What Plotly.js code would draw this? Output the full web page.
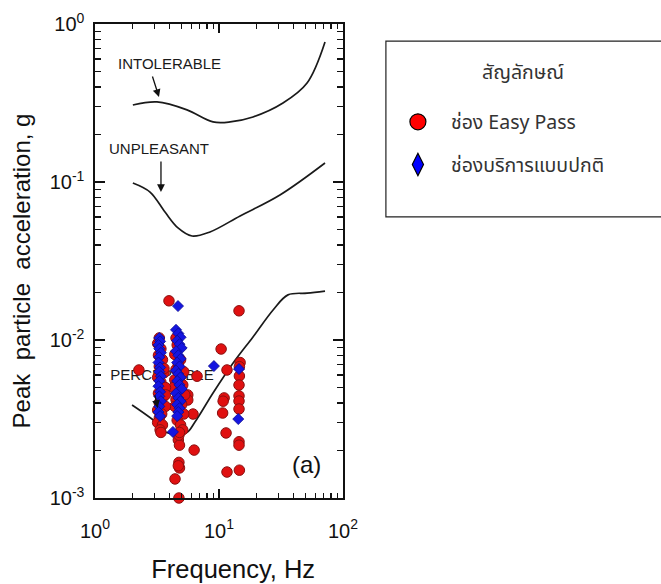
<!DOCTYPE html>
<html>
<head>
<meta charset="utf-8">
<script src="https://cdn.plot.ly/plotly-3.0.1.min.js"></script>
<style>html,body{margin:0;padding:0;background:#fff;}#chart{width:661px;height:584px;}</style>
</head>
<body>
<div id="chart"></div>
<script>
// ---- threshold curves (frequency Hz, acceleration g) ----
var intolerableF = [2.02, 3.16, 5.52, 8.95, 12.3, 18.8, 32.8, 51.3, 71.6];
var intolerableA = [0.307, 0.321, 0.286, 0.240, 0.240, 0.258, 0.316, 0.423, 0.769];
var unpleasantF = [2.02, 2.78, 3.67, 4.67, 6.06, 8.46, 14.8, 31.0, 71.6];
var unpleasantA = [0.0986, 0.0864, 0.0645, 0.0512, 0.0455, 0.0483, 0.0610, 0.0828, 0.132];
var perceptibleF = [1.99, 3.16, 3.67, 5.42, 6.4, 8.95, 13.0, 18.8, 27.3, 36.0, 51.3, 71.6];
var perceptibleA = [0.00388, 0.00298, 0.00262, 0.00258, 0.00303, 0.00462, 0.00715, 0.01045, 0.0155, 0.0193, 0.0198, 0.0204];

// ---- measured points: Easy Pass lane (red circles) ----
var easyF = [3.95, 14.5, 10.4, 2.26, 6.65, 11.6, 14.8, 14.6, 14.6, 14.5, 14.5, 14.5, 14.5, 14.5, 14.5, 14.6,
  11.0, 10.8, 10.7, 11.4, 11.6, 6.17, 6.3,
  4.75, 4.42, 4.75, 4.8, 4.7, 4.7, 4.8, 4.75, 5.6, 5.6,
  4.5, 4.6, 4.4, 4.9, 4.5, 5.0, 4.4, 5.1, 4.6, 5.3, 4.5, 5.0, 4.7, 5.2, 4.6, 4.9, 5.1, 4.8, 4.7, 5.2, 4.3, 4.4,
  3.3, 3.2, 3.4, 3.25, 3.5, 3.3, 3.6, 3.2, 3.4, 3.7, 3.25, 3.5, 3.3, 3.7, 3.2, 3.45, 3.3, 3.2, 3.5, 3.35, 3.4, 3.6, 3.7];
var easyA = [0.0177, 0.0153, 0.00877, 0.00646, 0.0059, 0.00646, 0.0072, 0.00678, 0.00592, 0.00519, 0.00443, 0.00411, 0.00366, 0.00227, 0.00216, 0.0015,
  0.0043, 0.0041, 0.00345, 0.00258, 0.00146, 0.0034, 0.00201,
  0.001, 0.00132, 0.00168, 0.00155, 0.0016, 0.00233, 0.00216, 0.0025, 0.00449, 0.00417,
  0.0103, 0.0093, 0.0081, 0.0075, 0.0065, 0.0060, 0.0056, 0.0052, 0.0048, 0.0045, 0.0042, 0.0039, 0.0036, 0.0034, 0.0031, 0.0029, 0.0027, 0.0026, 0.0070, 0.0063, 0.0050, 0.0038,
  0.0103, 0.0095, 0.0088, 0.0080, 0.0075, 0.0068, 0.0062, 0.0058, 0.0054, 0.0050, 0.0046, 0.0043, 0.0040, 0.0038, 0.0036, 0.0034, 0.0032, 0.0030, 0.0029, 0.0027, 0.0026, 0.0066, 0.0045];

// ---- measured points: normal service lane (blue diamonds) ----
var normalF = [4.67, 9.1, 14.5, 14.3, 4.25,
  3.3, 3.35, 3.25, 3.3, 3.4, 3.3, 3.25, 3.35, 3.3, 3.4, 3.3, 3.25, 3.35, 3.3, 3.4, 3.3, 3.25, 3.35,
  4.5, 4.7, 4.9, 4.6, 4.8, 5.0, 4.5, 4.7, 4.9, 4.6, 4.8, 4.5, 4.7, 4.9, 4.6, 4.8, 5.0, 4.5, 4.7, 4.9, 4.6, 4.8, 4.7, 4.6];
var normalA = [0.0164, 0.00684, 0.00655, 0.00316, 0.00262,
  0.0103, 0.0098, 0.0093, 0.0088, 0.0083, 0.0078, 0.0072, 0.0067, 0.0063, 0.0059, 0.0055, 0.0051, 0.0047, 0.0044, 0.0041, 0.0038, 0.0035, 0.0033,
  0.0116, 0.0110, 0.0104, 0.0099, 0.0094, 0.0089, 0.0085, 0.0080, 0.0076, 0.0072, 0.0068, 0.0064, 0.0061, 0.0058, 0.0055, 0.0052, 0.0049, 0.0046, 0.0043, 0.0041, 0.0039, 0.0037, 0.0035, 0.0033];

// ---- text ----
var xTickVals = [1, 10, 100];
var xTickText = ['10<sup>0</sup>', '10<sup>1</sup>', '10<sup>2</sup>'];
var yTickVals = [0.001, 0.01, 0.1, 1];
var yTickText = ['10<sup>-3</sup>', '10<sup>-2</sup>', '10<sup>-1</sup>', '10<sup>0</sup>'];
var xMinor = [2, 3, 4, 5, 6, 7, 8, 9, 20, 30, 40, 50, 60, 70, 80, 90];
var yMinor = [0.002, 0.003, 0.004, 0.005, 0.006, 0.007, 0.008, 0.009, 0.02, 0.03, 0.04, 0.05, 0.06, 0.07, 0.08, 0.09, 0.2, 0.3, 0.4, 0.5, 0.6, 0.7, 0.8, 0.9];
var seriesNames = ['ช่อง Easy Pass', 'ช่องบริการแบบปกติ'];
var legendTitle = 'สัญลักษณ์';
var curveLabels = ['INTOLERABLE', 'UNPLEASANT', 'PERCEPTIBLE'];
var xTitle = '&nbsp;&nbsp;&nbsp;&nbsp;Frequency, Hz';
var yTitle = 'Peak&nbsp; particle&nbsp; acceleration, g&nbsp;&nbsp;&nbsp;';

var F = 'Liberation Sans, Arial, sans-serif';
var TF = '"Noto Sans Thai", Tahoma, "Noto Sans", sans-serif';
var lineStyle = {color: '#1a1a1a', width: 1.7, shape: 'spline', smoothing: 1};

var traces = [
  {x: [3.47], y: [0.00592], mode: 'text', text: [curveLabels[2]], textfont: {family: F, size: 15, color: '#1a1a1a'},
   showlegend: false, hoverinfo: 'skip', cliponaxis: false},
  {x: intolerableF, y: intolerableA, mode: 'lines', line: lineStyle, showlegend: false},
  {x: unpleasantF, y: unpleasantA, mode: 'lines', line: lineStyle, showlegend: false},
  {x: perceptibleF, y: perceptibleA, mode: 'lines', line: lineStyle, showlegend: false},
  {x: easyF, y: easyA, mode: 'markers', name: seriesNames[0], showlegend: false, cliponaxis: false,
   marker: {symbol: 'circle', size: 10.5, color: '#e01010', line: {color: '#8a1010', width: 1}}},
  {x: normalF, y: normalA, mode: 'markers', name: seriesNames[1], showlegend: false, cliponaxis: false,
   marker: {symbol: 'diamond', size: 8.5, color: '#1515e0', line: {color: '#0a0a90', width: 0.8}}},
  // legend entries
  {x: [null], y: [null], mode: 'markers', name: seriesNames[0], legend: 'legend',
   marker: {symbol: 'circle', size: 16, color: '#ff0000', line: {color: '#000', width: 1.2}}},
  {x: [null], y: [null], mode: 'markers', name: seriesNames[1], legend: 'legend2',
   marker: {symbol: 'diamond-tall', size: 16, color: '#0000ff', line: {color: '#000', width: 1.2}}}
];

var legendCommon = {xanchor: 'left', yanchor: 'middle', bgcolor: 'rgba(0,0,0,0)', borderwidth: 0,
  font: {family: TF, size: 19.5, color: '#333'}, itemwidth: 56};

var layout = {
  width: 661, height: 584,
  margin: {l: 95, r: 318, t: 24, b: 86, pad: 0},
  paper_bgcolor: '#ffffff', plot_bgcolor: '#ffffff',
  xaxis: {type: 'log', range: [0, 2], showgrid: false, zeroline: false,
    showline: true, linecolor: '#111', linewidth: 1.6, mirror: 'ticks',
    tickmode: 'array', tickvals: xTickVals, ticktext: xTickText,
    ticks: 'inside', ticklen: 9, tickwidth: 1.5, tickcolor: '#111',
    minor: {tickmode: 'array', tickvals: xMinor, ticks: 'inside', ticklen: 5, tickwidth: 1.3, tickcolor: '#111', showgrid: false},
    tickfont: {family: F, size: 20, color: '#111'}, ticklabelstandoff: 14,
    title: {text: xTitle, font: {family: F, size: 25.5, color: '#111'}, standoff: 19}},
  yaxis: {type: 'log', range: [-3, 0], showgrid: false, zeroline: false,
    showline: true, linecolor: '#111', linewidth: 1.6, mirror: 'ticks',
    tickmode: 'array', tickvals: yTickVals, ticktext: yTickText,
    ticks: 'inside', ticklen: 10, tickwidth: 1.5, tickcolor: '#111',
    minor: {tickmode: 'array', tickvals: yMinor, ticks: 'inside', ticklen: 6, tickwidth: 1.3, tickcolor: '#111', showgrid: false},
    tickfont: {family: F, size: 20, color: '#111'}, ticklabelstandoff: 5,
    title: {text: yTitle, font: {family: F, size: 24, color: '#111'}, standoff: 12}},
  legend: Object.assign({x: 1.169, y: 0.793}, legendCommon),
  legend2: Object.assign({x: 1.169, y: 0.703}, legendCommon),
  shapes: [
    {type: 'rect', xref: 'paper', yref: 'paper', x0: 1.173, x1: 2.4, y0: 0.593, y1: 0.964,
     line: {color: '#222', width: 1.2}, fillcolor: 'rgba(0,0,0,0)'}
  ],
  annotations: [
    {xref: 'paper', yref: 'paper', x: 1.726, y: 0.897, text: legendTitle, showarrow: false,
     font: {family: TF, size: 19.5, color: '#333'}, xanchor: 'center', yanchor: 'middle'},
    {x: 0.597, y: -0.253, text: curveLabels[0], showarrow: false, font: {family: F, size: 15, color: '#1a1a1a'}},
    {x: 0.516, y: -0.791, text: curveLabels[1], showarrow: false, font: {family: F, size: 15, color: '#1a1a1a'}},
    {x: 0.516, y: -0.462, text: '', showarrow: true, arrowhead: 2, arrowsize: 1.2, arrowwidth: 1.3, arrowcolor: '#111', ax: -7, ay: -22},
    {x: 0.532, y: -1.063, text: '', showarrow: true, arrowhead: 2, arrowsize: 1.2, arrowwidth: 1.3, arrowcolor: '#111', ax: 0, ay: -32},
    {x: 0.505, y: -2.43, text: '', showarrow: true, arrowhead: 2, arrowsize: 1.2, arrowwidth: 1.3, arrowcolor: '#111', ax: -3, ay: -14},
    {x: 1.702, y: -2.791, text: '(a)', showarrow: false, font: {family: F, size: 24, color: '#111'}}
  ]
};

Plotly.newPlot('chart', traces, layout, {displayModeBar: false, staticPlot: true});
</script>
</body>
</html>
